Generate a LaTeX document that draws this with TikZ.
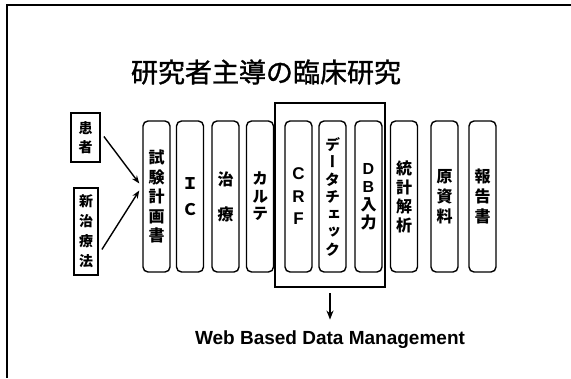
\documentclass[tikz,border=0pt]{standalone}
\usepackage{fontspec}
\setmainfont{Liberation Sans}
\newfontfamily\cjk{Noto Sans CJK JP}
\newfontfamily\cjkm[FakeBold=1.2]{Noto Sans CJK JP}
\newfontfamily\cjkv[RawFeature=+vert]{Noto Sans CJK JP}
\usetikzlibrary{arrows.meta}
\begin{document}
\begin{tikzpicture}[x=1pt,y=-1pt,
  colbox/.style={draw, line width=1.4pt, rounded corners=5pt, minimum width=27pt,
    minimum height=151pt, inner sep=0pt, align=center},
  srcbox/.style={draw, line width=1.8pt, inner sep=0pt, align=center,
    font=\cjk\bfseries\fontsize{14}{19}\selectfont},
  arr/.style={line width=1.4pt, -{Stealth[length=8pt,width=6pt]}}]
\useasboundingbox (0,0) rectangle (571,378);
% frame
\draw[line width=2.5pt] (571,5) -- (7,5) -- (7,378);
% title
\node[font=\cjkm\fontsize{27}{30}\selectfont] (title) at (266,72) {研究者主導の臨床研究};
% source boxes
\node[srcbox, minimum width=29pt, minimum height=49pt] (pat) at (85.5,137.5) {患\\者};
\node[srcbox, minimum width=24pt, minimum height=87pt, font=\cjk\bfseries\fontsize{14}{20}\selectfont] (new) at (86,231.5) {新\\治\\療\\法};
% column boxes
\node[colbox, font=\cjk\bfseries\fontsize{16}{19.5}\selectfont] (b1) at (156.5,196.5) {試\\験\\計\\画\\書};
\node[colbox, font=\cjk\bfseries\fontsize{16}{26}\selectfont] (b2) at (190,196.5) {Ｉ\\Ｃ};
\node[colbox, font=\cjk\bfseries\fontsize{16}{35}\selectfont] (b3) at (225.5,196.5) {治\\療};
\node[colbox, font=\cjkv\bfseries\fontsize{16}{17.5}\selectfont] (b4) at (260,196.5) {カ\\ル\\テ};
\node[colbox, font=\bfseries\fontsize{17}{22.5}\selectfont] (b5) at (298.5,196.5) {C\\R\\F};
\node[colbox, font=\cjkv\bfseries\fontsize{15}{17.5}\selectfont] (b6) at (332.5,196.5) {デ\\ー\\タ\\チ\\ェ\\ッ\\ク};
\node[colbox, font=\bfseries\fontsize{16}{18}\selectfont] (b7) at (368.5,196.5) {D\\B\\{\cjk 入}\\{\cjk 力}};
\node[colbox, font=\cjk\bfseries\fontsize{16}{19}\selectfont] (b8) at (404,196.5) {統\\計\\解\\析};
\node[colbox, font=\cjk\bfseries\fontsize{16}{20}\selectfont] (b9) at (444.5,196.5) {原\\資\\料};
\node[colbox, font=\cjk\bfseries\fontsize{16}{20}\selectfont] (b10) at (482.5,196.5) {報\\告\\書};
% big box
\node[draw, line width=2pt, minimum width=110pt, minimum height=184pt, inner sep=0pt] (big) at (330,195) {};
% label
\node[font=\bfseries\fontsize{19}{22}\selectfont] (web) at (330,340) {Web Based Data Management};
% arrows
\draw[arr] ([xshift=3pt,yshift=1pt]pat.east) -- ([xshift=-3pt,yshift=13pt]b1.west);
\draw[arr] ([xshift=3pt,yshift=-18pt]new.east) -- ([xshift=-3pt,yshift=6pt]b1.west);
\draw[line width=2pt, -{Stealth[length=9pt,width=7pt]}] ([yshift=-5pt]big.south) -- ([yshift=8pt]web.north);
\end{tikzpicture}
\end{document}
